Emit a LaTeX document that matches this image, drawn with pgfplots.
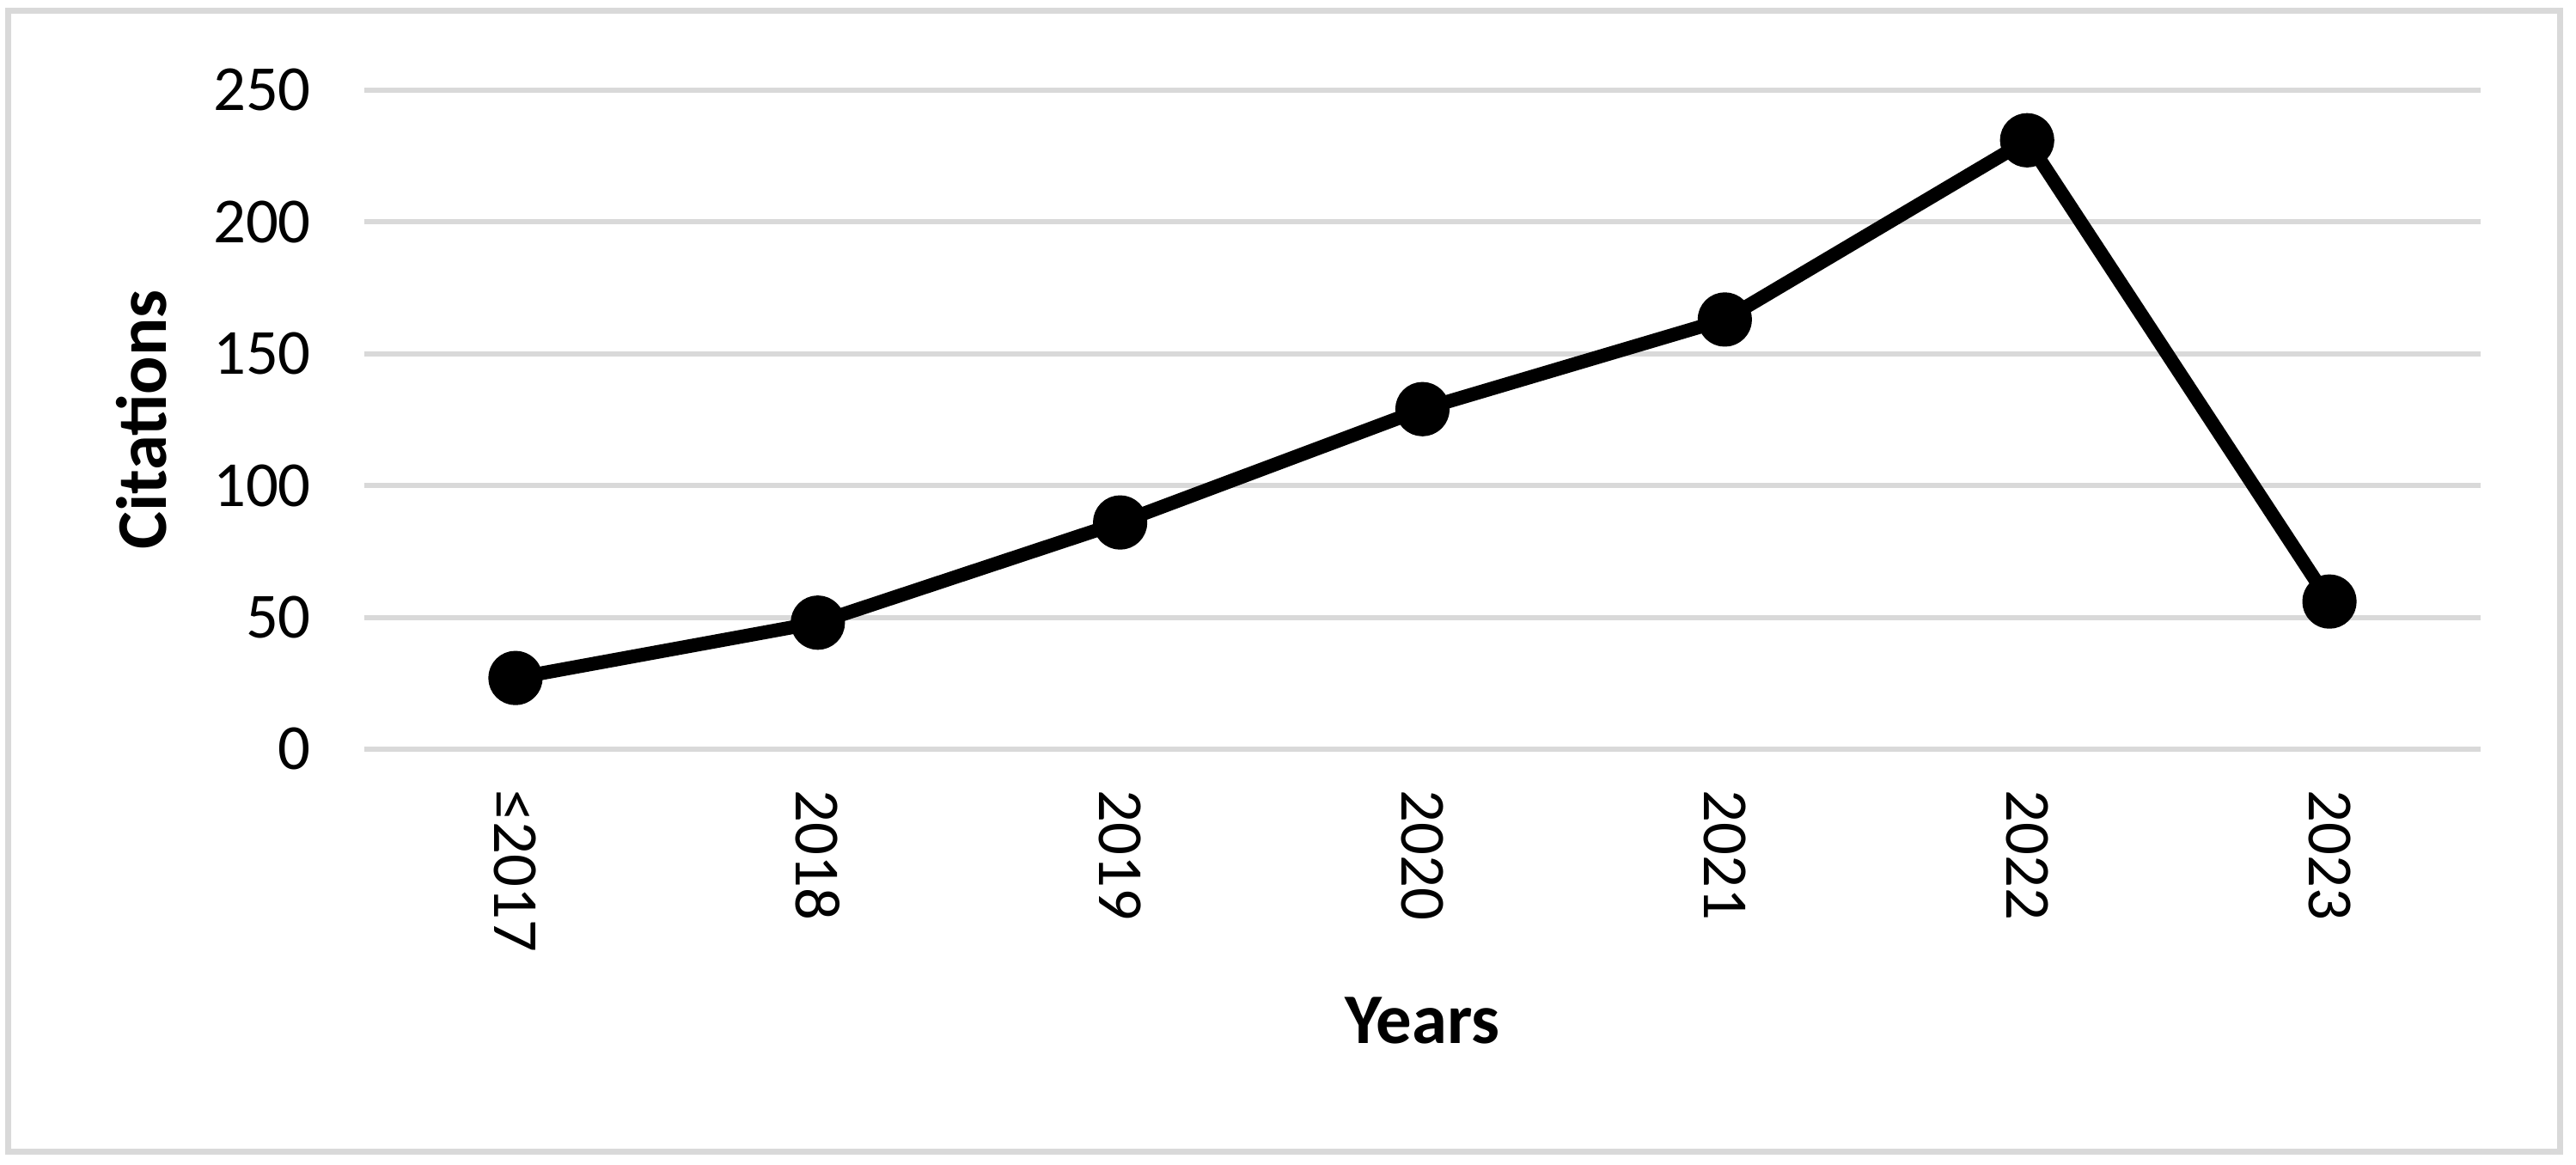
\documentclass[border=0pt]{standalone}
\usepackage{pgfplots}
\pgfplotsset{compat=1.18}
\usepackage{fontspec}
\setmainfont{Carlito}
\definecolor{gridgray}{HTML}{D9D9D9}
\begin{document}
\begin{tikzpicture}
\useasboundingbox (0,0) rectangle (749.5pt,339pt);
\draw[gridgray, line width=1.75pt] (2.25pt,3.75pt) rectangle (744.75pt,335.75pt);
\begin{axis}[
 at={(106pt,121pt)}, anchor=south west,
 scale only axis, width=615.75pt, height=191.75pt,
 xmin=-0.5, xmax=6.5, ymin=0, ymax=250,
 xtick={0,...,6}, xticklabels={≤2017,2018,2019,2020,2021,2022,2023},
 ytick={0,50,...,250},
 axis line style={draw=none},
 major tick length=0pt,
 ymajorgrids, major grid style={gridgray, line width=1.5pt},
 tick label style={font=\fontsize{18.7}{22}\selectfont},
 /pgf/number format/assume math mode=true,
 xticklabel style={rotate=-90, anchor=west},
 xticklabel shift=8.4pt, yticklabel shift=12pt,
 xlabel={Years}, ylabel={Citations},
 label style={font=\fontsize{20.7}{24}\selectfont\bfseries},
 xlabel style={at={(axis description cs:0.5,-0.412)}, anchor=center},
 ylabel style={at={(axis description cs:-0.1052,0.5)}, anchor=center},
 clip=false,
]
\addplot[black, line width=4pt, line join=round, mark=*, mark size=5.9pt, mark options={solid}] coordinates {(0,27)(1,48)(2,86)(3,129)(4,163)(5,231)(6,56)};
\end{axis}
\end{tikzpicture}
\end{document}
